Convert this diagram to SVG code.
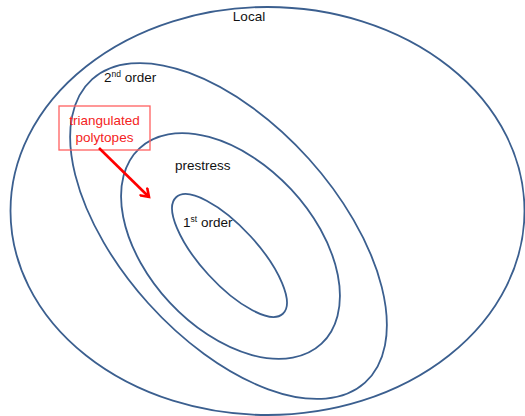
<svg xmlns="http://www.w3.org/2000/svg" width="525" height="416" viewBox="0 0 525 416">
<style>
.ring{fill:none;stroke:#3b5f8f;stroke-width:1.8}
.lbl{font-family:"Liberation Sans",Arial,sans-serif;font-size:13.5px;fill:#111}
.sup{font-size:8.5px}
.red{font-family:"Liberation Sans",Arial,sans-serif;font-size:13.5px;fill:#f42323;text-anchor:middle}
</style>
<defs>
<marker id="ah" markerWidth="12" markerHeight="12" refX="9" refY="6" orient="auto" markerUnits="userSpaceOnUse">
<path d="M1,0.5 L9,6 L1,11.5" fill="none" stroke="#f00" stroke-width="2.6" stroke-linejoin="miter"/>
</marker>
</defs>
<rect width="525" height="416" fill="#fff"/>
<g id="local">
<ellipse class="ring" cx="267.5" cy="211" rx="257" ry="204"/>
<text class="lbl" x="249" y="21" text-anchor="middle">Local</text>
</g>
<g id="second-order">
<ellipse class="ring" cx="228.5" cy="231" rx="204" ry="108" transform="rotate(48 228.5 231)"/>
<text class="lbl" x="104" y="82">2<tspan class="sup" dy="-5">nd</tspan><tspan dy="5"> order</tspan></text>
</g>
<g id="prestress">
<ellipse class="ring" cx="230.5" cy="246" rx="133.5" ry="83" transform="rotate(47 230.5 246)"/>
<text class="lbl" x="175" y="170">prestress</text>
</g>
<g id="first-order">
<ellipse class="ring" cx="229.5" cy="255.5" rx="79" ry="28.5" transform="rotate(47.5 229.5 255.5)"/>
<text class="lbl" x="183" y="227">1<tspan class="sup" dy="-5">st</tspan><tspan dy="5"> order</tspan></text>
</g>
<g id="triangulated-polytopes">
<rect x="59" y="106" width="91" height="44" fill="none" stroke="#ff6060" stroke-width="1.3"/>
<text class="red" x="104.5" y="125">triangulated</text>
<text class="red" x="104.5" y="142">polytopes</text>
</g>
<g id="connectors">
<line x1="99" y1="148" x2="149" y2="197" stroke="#f00" stroke-width="2.6" marker-end="url(#ah)"/>
</g>
</svg>
